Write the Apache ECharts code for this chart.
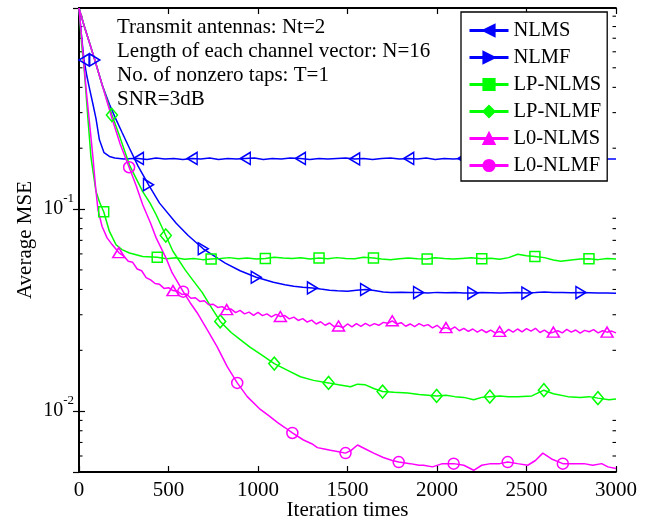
<!DOCTYPE html>
<html>
<head>
<meta charset="utf-8">
<script src="https://cdn.jsdelivr.net/npm/echarts@6/dist/echarts.min.js"></script>
<style>html,body{margin:0;padding:0;background:#fff;}#c{width:659px;height:521px;}</style>
</head>
<body>
<div id="c"></div>
<script>
// ---------- data ----------
const seriesNames = ['NLMS', 'NLMF', 'LP-NLMS', 'LP-NLMF', 'L0-NLMS', 'L0-NLMF'];
const xTickLabels = [0, 500, 1000, 1500, 2000, 2500, 3000];
const yMinorTicks = [0.006,0.007,0.008,0.009,0.02,0.03,0.04,0.05,0.06,0.07,0.08,0.09,0.2,0.3,0.4,0.5,0.6,0.7,0.8,0.9];
const annotation = ['Transmit antennas: Nt=2', 'Length of each channel vector: N=16', 'No. of nonzero taps: T=1', 'SNR=3dB'];

const nlmsX = [0,14,28,45,60,78,95,114,140,170,200,250,300,332,380,430,480,530,580,632,680,730,780,830,880,929,980,1030,1080,1130,1180,1237,1290,1340,1390,1440,1490,1540,1590,1640,1690,1740,1790,1842,1890,1940,1990,2040,2090,2145,2190,2240,2290,2340,2390,2450,2500,2550,2600,2650,2700,2750,2800,2850,2900,2950,3000];
const nlmsY = [0.985,0.72,0.547,0.45,0.39,0.33,0.28,0.22,0.19,0.182,0.179,0.177,0.178,0.178,0.176,0.179,0.177,0.178,0.176,0.178,0.177,0.179,0.176,0.178,0.177,0.178,0.179,0.176,0.178,0.177,0.179,0.178,0.176,0.178,0.177,0.178,0.179,0.177,0.178,0.176,0.178,0.179,0.177,0.178,0.177,0.179,0.176,0.178,0.177,0.178,0.179,0.177,0.178,0.176,0.178,0.179,0.177,0.178,0.177,0.179,0.178,0.177,0.178,0.176,0.178,0.177,0.177];
const nlmsMarks = [28,332,632,929,1237,1540,1842,2145,2450,2750];

const nlmfX = [0,30,60,88,130,170,201,240,282,330,388,450,543,610,694,750,817,900,990,1086,1150,1200,1250,1304,1350,1400,1444,1500,1550,1601,1650,1700,1741,1800,1850,1897,1950,2000,2050,2100,2150,2200,2250,2300,2350,2400,2450,2502,2550,2600,2650,2700,2750,2804,2850,2900,2950,3000];
const nlmfY = [0.985,0.80,0.66,0.547,0.41,0.33,0.285,0.24,0.20,0.163,0.132,0.107,0.085,0.074,0.0636,0.059,0.054,0.0495,0.046,0.0434,0.0422,0.0415,0.0410,0.0407,0.0402,0.0397,0.0394,0.0392,0.0396,0.0400,0.0395,0.0389,0.0386,0.0388,0.0386,0.0386,0.0384,0.0387,0.0385,0.0386,0.0384,0.0384,0.0386,0.0385,0.0384,0.0385,0.0386,0.0384,0.0386,0.0389,0.0387,0.0386,0.0385,0.0386,0.0385,0.0384,0.0384,0.0383];
const nlmfMarks = [88,388,694,990,1304,1601,1897,2200,2502,2804];

const lpNlmsX = [0,15,30,50,67,80,95,115,138,170,207,240,282,356,437,490,540,590,640,690,738,790,840,890,940,990,1041,1090,1140,1190,1240,1290,1341,1390,1440,1490,1540,1590,1645,1690,1740,1790,1840,1890,1945,1990,2040,2090,2140,2190,2250,2300,2350,2400,2451,2500,2547,2600,2650,2692,2750,2800,2849,2900,2950,3000];
const lpNlmsY = [0.985,0.65,0.48,0.28,0.18,0.15,0.122,0.108,0.097,0.0775,0.0666,0.063,0.0606,0.0583,0.0577,0.0568,0.0574,0.0565,0.0570,0.0562,0.0566,0.0570,0.0575,0.0568,0.0572,0.0566,0.0570,0.0578,0.0573,0.0569,0.0574,0.0566,0.0572,0.0568,0.0575,0.0570,0.0567,0.0578,0.0572,0.0566,0.0561,0.0567,0.0572,0.0568,0.0566,0.0574,0.0569,0.0566,0.0570,0.0574,0.0568,0.0571,0.0565,0.0575,0.0597,0.0588,0.0583,0.0575,0.0560,0.0552,0.0560,0.0566,0.0567,0.0562,0.0570,0.0566];
const lpNlmsMarks = [138,437,738,1041,1341,1645,1945,2250,2547,2849];

const lpNlmfX = [0,30,60,90,130,184,230,282,356,397,431,485,524,593,640,688,740,789,850,901,957,1020,1091,1160,1237,1310,1394,1450,1517,1556,1600,1650,1696,1760,1836,1900,1950,1998,2050,2100,2150,2205,2250,2295,2350,2400,2451,2530,2597,2650,2731,2800,2850,2899,2961,3000];
const lpNlmfY = [0.985,0.80,0.66,0.54,0.41,0.292,0.225,0.165,0.122,0.107,0.0937,0.074,0.062,0.050,0.044,0.0387,0.0325,0.0278,0.0245,0.0226,0.0207,0.019,0.0172,0.0160,0.0148,0.0142,0.0138,0.0135,0.0132,0.0136,0.0135,0.0129,0.0125,0.0124,0.0123,0.0121,0.0120,0.0119,0.0120,0.0118,0.0117,0.0114,0.0117,0.0118,0.0119,0.0118,0.0118,0.0119,0.0127,0.0122,0.0118,0.0117,0.0118,0.0116,0.0114,0.0115];
const lpNlmfMarks = [184,485,789,1091,1394,1696,1998,2295,2597,2899];

const l0NlmsX = [0,20,40,60,78,92,106,129,157,185,222,250,275,300,325,350,375,400,425,450,475,500,525,550,575,600,625,650,675,700,725,750,775,800,825,850,875,900,925,950,975,1000,1025,1050,1075,1100,1125,1150,1175,1200,1225,1250,1275,1300,1325,1350,1375,1400,1425,1450,1475,1500,1525,1550,1575,1600,1625,1650,1675,1700,1725,1750,1775,1800,1825,1850,1875,1900,1925,1950,1975,2000,2025,2050,2075,2100,2125,2150,2175,2200,2225,2250,2275,2300,2325,2350,2375,2400,2425,2450,2475,2500,2525,2550,2575,2600,2625,2650,2675,2700,2725,2750,2775,2800,2825,2850,2875,2900,2925,2950,2975,3000];
const l0NlmsY = [0.985,0.62,0.39,0.26,0.18,0.13,0.099,0.082,0.072,0.0667,0.0609,0.0585,0.0552,0.0545,0.0505,0.0495,0.0458,0.0446,0.0428,0.0424,0.0405,0.0408,0.0395,0.0392,0.0378,0.0380,0.0362,0.0364,0.0349,0.0352,0.0336,0.0338,0.0326,0.0329,0.0318,0.0320,0.0307,0.0315,0.0303,0.0309,0.0298,0.0308,0.0297,0.0303,0.0293,0.0301,0.0294,0.0297,0.0286,0.0292,0.0281,0.0287,0.0276,0.0282,0.0270,0.0277,0.0266,0.0273,0.0262,0.0264,0.0259,0.0270,0.0261,0.0271,0.0263,0.0272,0.0264,0.0271,0.0266,0.0275,0.0272,0.0280,0.0270,0.0274,0.0263,0.0270,0.0262,0.0271,0.0264,0.0268,0.0258,0.0266,0.0255,0.0259,0.0253,0.0261,0.0250,0.0257,0.0248,0.0255,0.0246,0.0253,0.0245,0.0252,0.0244,0.0248,0.0243,0.0254,0.0246,0.0255,0.0247,0.0256,0.0249,0.0257,0.0245,0.0252,0.0243,0.0246,0.0250,0.0244,0.0254,0.0246,0.0252,0.0243,0.0251,0.0247,0.0253,0.0244,0.0250,0.0246,0.0249,0.0244];
const l0NlmsMarks = [222,525,825,1125,1450,1750,2050,2350,2650,2950];

const l0NlmfX = [0,30,60,90,130,185,230,280,320,356,400,431,487,520,582,620,660,716,772,828,884,940,1013,1060,1108,1150,1192,1254,1300,1332,1370,1405,1450,1489,1520,1556,1600,1646,1700,1750,1786,1850,1900,1925,1975,2030,2093,2150,2205,2250,2300,2350,2395,2450,2507,2550,2591,2640,2703,2760,2821,2870,2920,2955,3000];
const l0NlmfY = [0.985,0.80,0.66,0.54,0.41,0.28,0.21,0.161,0.13,0.105,0.085,0.072,0.057,0.0484,0.039,0.0345,0.0307,0.0253,0.0208,0.0166,0.0138,0.0118,0.0102,0.0095,0.0088,0.0083,0.0078,0.0072,0.0069,0.0066,0.0065,0.0064,0.0063,0.0062,0.0064,0.0068,0.0065,0.0062,0.0059,0.0057,0.0056,0.0055,0.0054,0.0054,0.0053,0.0055,0.0055,0.0054,0.0051,0.0054,0.0055,0.0055,0.0056,0.0055,0.0054,0.0057,0.0062,0.0058,0.0055,0.0055,0.0055,0.0054,0.0055,0.0053,0.0052];
const l0NlmfMarks = [280,582,884,1192,1489,1786,2093,2395,2703];

// ---------- chart ----------
const FONT = 'Liberation Serif';
const BLUE = '#0000ff', GREEN = '#00ff00', MAGENTA = '#ff00ff';
const X_MAX = xTickLabels[xTickLabels.length - 1];
const Y_MIN = 0.005, Y_MAX = 0.988;

function buildData(xs, ys, marks) {
  const n = Math.min(xs.length, ys.length);
  const out = [];
  for (let i = 0; i < n; i++) {
    if (marks.indexOf(xs[i]) >= 0) {
      out.push({ value: [xs[i], ys[i]], itemStyle: { color: 'rgba(0,0,0,0)' } });
    } else {
      out.push({ value: [xs[i], ys[i]], symbol: 'none' });
    }
  }
  return out;
}

function lineSeries(name, xs, ys, marks, color, symbol, size, rotate) {
  return {
    name: name, type: 'line', data: buildData(xs, ys, marks),
    symbol: symbol, symbolSize: size, symbolRotate: rotate || 0, showSymbol: true,
    lineStyle: { color: color, width: 1.5 },
    itemStyle: { color: color, borderColor: color, borderWidth: 1.5 },
    emphasis: { disabled: true }, animation: false
  };
}

const chart = echarts.init(document.getElementById('c'), null, { renderer: 'canvas' });

const axisLineStyle = { color: '#000', width: 1.8 };
const tickStyle = { color: '#000', width: 1.2 };

const option = {
  backgroundColor: '#fff',
  animation: false,
  grid: { left: 79, right: 43, top: 8, bottom: 49, containLabel: false, outerBoundsMode: 'none' },
  xAxis: [{
    type: 'value', min: 0, max: X_MAX, interval: 500, position: 'bottom',
    name: 'Iteration times', nameLocation: 'middle', nameGap: 28, nameMoveOverlap: false,
    nameTextStyle: { fontFamily: FONT, fontSize: 21, color: '#000' },
    axisLine: { show: true, lineStyle: axisLineStyle },
    axisTick: { show: true, inside: true, length: 6, lineStyle: tickStyle },
    axisLabel: { fontFamily: FONT, fontSize: 21, color: '#000', margin: 8,
      formatter: function (v) { return String(v); } },
    splitLine: { show: false }
  }, {
    type: 'value', min: 0, max: X_MAX, interval: 500, position: 'top',
    axisLine: { show: true, lineStyle: axisLineStyle },
    axisTick: { show: true, inside: true, length: 6, lineStyle: tickStyle },
    axisLabel: { show: false }, splitLine: { show: false }
  }],
  yAxis: [{
    type: 'log', logBase: 10, min: Y_MIN, max: Y_MAX, position: 'left',
    name: 'Average MSE', nameLocation: 'middle', nameGap: 43, nameMoveOverlap: false,
    nameTextStyle: { fontFamily: FONT, fontSize: 21, color: '#000' },
    axisLine: { show: true, lineStyle: axisLineStyle },
    axisTick: { show: true, inside: true, length: 6, lineStyle: tickStyle },
    axisLabel: {
      showMinLabel: false, showMaxLabel: false, margin: 5,
      formatter: function (v) {
        const e = Math.round(Math.log10(v));
        if (Math.abs(Math.log10(v) - e) > 1e-6) return '';
        return '{b|10}{s|' + e + '}';
      },
      rich: {
        b: { fontFamily: FONT, fontSize: 20, color: '#000', lineHeight: 34 },
        s: { fontFamily: FONT, fontSize: 13, color: '#000', lineHeight: 16, verticalAlign: 'top' }
      }
    },
    splitLine: { show: false }
  }, {
    type: 'log', logBase: 10, min: Y_MIN, max: Y_MAX, position: 'right',
    axisLine: { show: true, lineStyle: axisLineStyle },
    axisTick: { show: true, inside: true, length: 6, lineStyle: tickStyle },
    axisLabel: { show: false }, splitLine: { show: false }
  }],
  legend: {
    data: seriesNames, orient: 'vertical', left: 461, top: 12,
    backgroundColor: '#fff', borderColor: '#000', borderWidth: 1.3, borderRadius: 0,
    padding: [8, 6, 5, 7], itemWidth: 39, itemHeight: 14, itemGap: 6,
    textStyle: { fontFamily: FONT, fontSize: 20.5, color: '#000', lineHeight: 20 },
    lineStyle: { width: 3 }
  },
  graphic: [{
    type: 'text', left: 117, top: 15, silent: true,
    style: { text: annotation.join('\n'), font: '21px "Liberation Serif"', fill: '#000', lineHeight: 24 }
  }],
  series: [
    lineSeries(seriesNames[0], nlmsX, nlmsY, nlmsMarks, BLUE, 'triangle', [12, 10], 90),
    lineSeries(seriesNames[1], nlmfX, nlmfY, nlmfMarks, BLUE, 'triangle', [12, 10], -90),
    lineSeries(seriesNames[2], lpNlmsX, lpNlmsY, lpNlmsMarks, GREEN, 'rect', 10),
    lineSeries(seriesNames[3], lpNlmfX, lpNlmfY, lpNlmfMarks, GREEN, 'diamond', [11, 13]),
    lineSeries(seriesNames[4], l0NlmsX, l0NlmsY, l0NlmsMarks, MAGENTA, 'triangle', [12, 10]),
    lineSeries(seriesNames[5], l0NlmfX, l0NlmfY, l0NlmfMarks, MAGENTA, 'circle', 11),
    {
      type: 'custom', name: 'minorTicks', silent: true, clip: false, animation: false,
      data: yMinorTicks.map(function (v) { return [0, v]; }),
      encode: { x: 0, y: 1 },
      renderItem: function (params, api) {
        const v = api.value(1);
        const pl = api.coord([0, v]);
        const pr = api.coord([X_MAX, v]);
        const st = { stroke: '#000', lineWidth: 1.1 };
        return {
          type: 'group', children: [
            { type: 'line', shape: { x1: pl[0], y1: pl[1], x2: pl[0] + 3.5, y2: pl[1] }, style: st },
            { type: 'line', shape: { x1: pr[0] - 3.5, y1: pr[1], x2: pr[0], y2: pr[1] }, style: st }
          ]
        };
      }
    }
  ]
};
chart.setOption(option);
</script>
</body>
</html>
